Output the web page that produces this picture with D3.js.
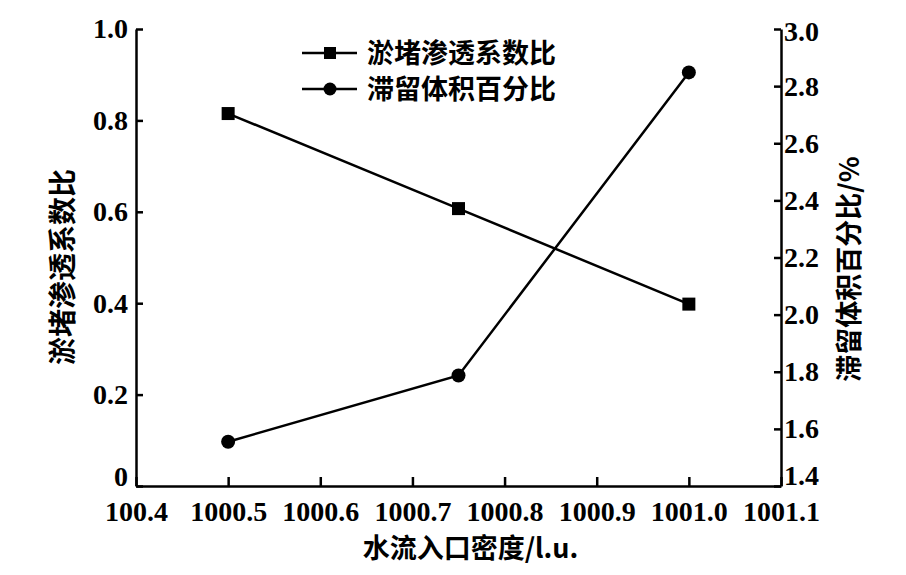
<!DOCTYPE html>
<html>
<head>
<meta charset="utf-8">
<script src="https://cdn.jsdelivr.net/npm/d3@7"></script>
<style>
  body { margin: 0; background: #fff; }
  svg { display: block; }
  .num { font-family: "Liberation Serif", "DejaVu Serif", serif; font-weight: bold; }
  .cjk { font-family: "Noto Sans CJK SC", sans-serif; font-weight: bold; }
</style>
</head>
<body>
<div id="grafico"></div>
<script>
// datos
var xValues = [1000.5, 1000.75, 1001.0];
var cloggingRatio = [0.815, 0.607, 0.398];     // 淤堵渗透系数比
var retentionPct = [1.555, 1.787, 2.848];      // 滞留体积百分比 (%)
var xTicks = [1000.4, 1000.5, 1000.6, 1000.7, 1000.8, 1000.9, 1001.0, 1001.1];
var xTickLabels = ['100.4', '1000.5', '1000.6', '1000.7', '1000.8', '1000.9', '1001.0', '1001.1'];
var yLeftTicks = [0, 0.2, 0.4, 0.6, 0.8, 1.0];
var yRightTicks = [1.4, 1.6, 1.8, 2.0, 2.2, 2.4, 2.6, 2.8, 3.0];
var legendNames = ['淤堵渗透系数比', '滞留体积百分比'];

function dibujar() {
    var chart_width = 906, chart_height = 575;
    var m_left = 136, m_right = 781, m_top = 29, m_bottom = 486;

    var svg = d3.select('#grafico').append('svg')
        .attr('width', chart_width)
        .attr('height', chart_height);

    // ESCALAS
    var x = d3.scaleLinear().domain([1000.4, 1001.1]).range([m_left, m_right]);
    var yL = d3.scaleLinear().domain([0, 1.0]).range([m_bottom, m_top]);
    var yR = d3.scaleLinear().domain([1.4, 3.0]).range([m_bottom, m_top]);

    function styleAxis(g) {
        g.attr('font-family', null).attr('font-size', null);
        g.selectAll('path').attr('stroke', '#000').attr('stroke-width', 2.5);
        g.selectAll('line').attr('stroke', '#000').attr('stroke-width', 2.5);
        g.selectAll('text')
            .attr('class', 'num')
            .style('font-size', '28px')
            .attr('fill', '#000');
    }

    // eje x, ticks hacia adentro
    var gx = svg.append('g')
        .attr('transform', 'translate(0,' + m_bottom + ')')
        .call(d3.axisBottom(x).tickValues(xTicks)
            .tickFormat(function (d, i) { return xTickLabels[i]; })
            .tickSizeInner(-9).tickSizeOuter(0));
    styleAxis(gx);
    gx.selectAll('text').attr('y', 15);

    // eje y izquierdo
    var gyl = svg.append('g')
        .attr('transform', 'translate(' + m_left + ',0)')
        .call(d3.axisLeft(yL).tickValues(yLeftTicks)
            .tickFormat(function (d) { return d === 0 ? '0' : d3.format('.1f')(d); })
            .tickSizeInner(-7).tickSizeOuter(0));
    styleAxis(gyl);
    gyl.selectAll('text').attr('x', -8)
        .attr('y', function (d) { return d === 0 ? -9 : 0; });

    // eje y derecho
    var gyr = svg.append('g')
        .attr('transform', 'translate(' + m_right + ',0)')
        .call(d3.axisRight(yR).tickValues(yRightTicks)
            .tickFormat(d3.format('.1f'))
            .tickSizeInner(-7).tickSizeOuter(0));
    styleAxis(gyr);
    gyr.selectAll('text').attr('x', 3)
        .attr('y', function (d) { return d === 1.4 ? -10 : (d === 3.0 ? 3 : 0); });

    // lineas
    var lineL = d3.line().x(function (d, i) { return x(xValues[i]); }).y(function (d) { return yL(d); });
    var lineR = d3.line().x(function (d, i) { return x(xValues[i]); }).y(function (d) { return yR(d); });

    svg.append('path').attr('d', lineL(cloggingRatio))
        .attr('fill', 'none').attr('stroke', '#000').attr('stroke-width', 2.5);
    svg.append('path').attr('d', lineR(retentionPct))
        .attr('fill', 'none').attr('stroke', '#000').attr('stroke-width', 2.5);

    var sq = 13;
    svg.selectAll('.sq').data(cloggingRatio).enter().append('rect')
        .attr('x', function (d, i) { return x(xValues[i]) - sq / 2; })
        .attr('y', function (d) { return yL(d) - sq / 2; })
        .attr('width', sq).attr('height', sq).attr('fill', '#000');

    svg.selectAll('.ci').data(retentionPct).enter().append('circle')
        .attr('cx', function (d, i) { return x(xValues[i]); })
        .attr('cy', function (d) { return yR(d); })
        .attr('r', 7).attr('fill', '#000');

    // leyenda
    var legend = svg.append('g').attr('transform', 'translate(302,53)');
    legendNames.forEach(function (name, i) {
        var g = legend.append('g').attr('transform', 'translate(0,' + (i * 36) + ')');
        g.append('line').attr('x1', 0).attr('x2', 55).attr('y1', 0).attr('y2', 0)
            .attr('stroke', '#000').attr('stroke-width', 2.5);
        if (i === 0) {
            g.append('rect').attr('x', 28 - 6).attr('y', -6).attr('width', 12).attr('height', 12).attr('fill', '#000');
        } else {
            g.append('circle').attr('cx', 28).attr('cy', 0).attr('r', 6.5).attr('fill', '#000');
        }
        g.append('text').attr('class', 'cjk').attr('x', 65).attr('y', 0).attr('dy', '0.36em')
            .style('font-size', '27px')
            .text(name);
    });

    // titulos de ejes
    svg.append('text').attr('class', 'cjk')
        .attr('x', (m_left + m_right) / 2 + 12).attr('y', 558)
        .attr('text-anchor', 'middle')
        .style('font-size', '27px')
        .text('水流入口密度/l.u.');

    svg.append('text').attr('class', 'cjk')
        .attr('transform', 'translate(63,267) rotate(-90)')
        .attr('text-anchor', 'middle').attr('dy', '0.36em')
        .style('font-size', '28px')
        .text('淤堵渗透系数比');

    svg.append('text').attr('class', 'cjk')
        .attr('transform', 'translate(849,269) rotate(-90)')
        .attr('text-anchor', 'middle').attr('dy', '0.36em')
        .style('font-size', '27px')
        .text('滞留体积百分比/%');
}

dibujar();
</script>
</body>
</html>
